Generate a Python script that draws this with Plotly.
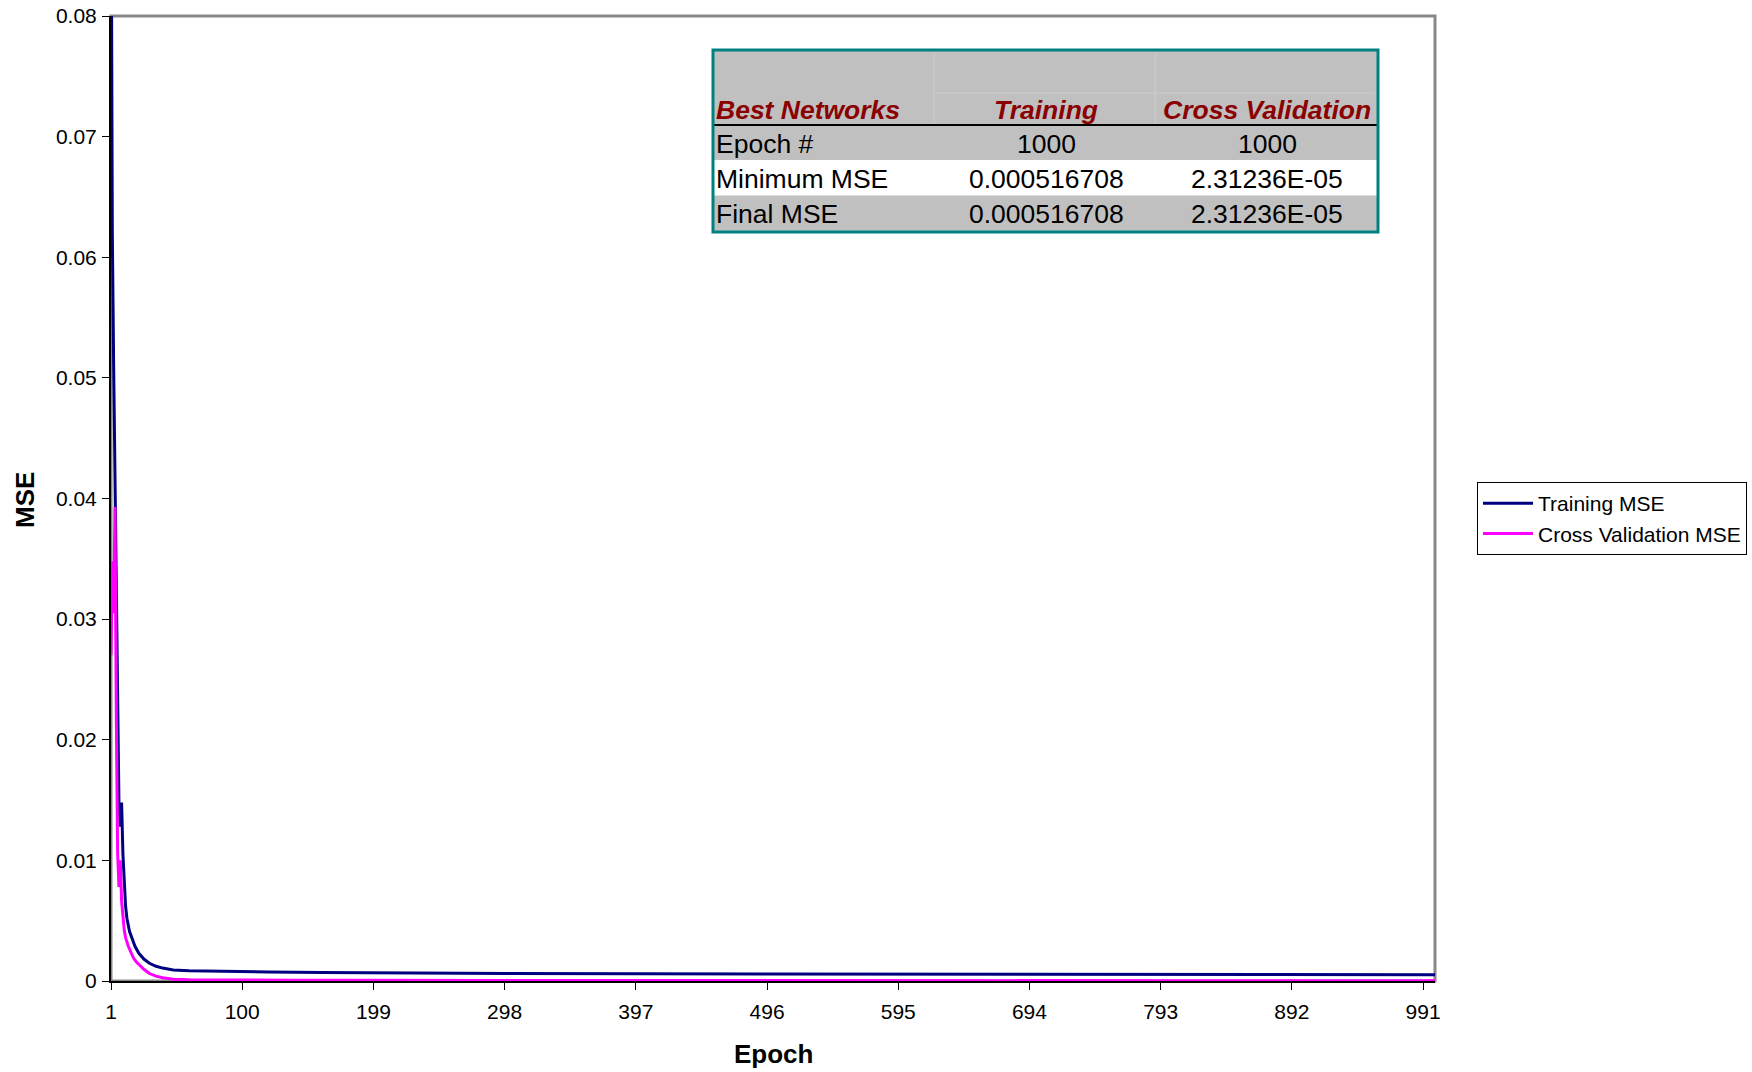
import plotly.graph_objects as go

# ---- data -------------------------------------------------------------
train_epochs = [1, 2, 3, 4, 5, 6, 7, 8, 9, 10, 11, 12, 13, 14, 15, 17, 19, 22, 26, 30,
                35, 40, 48, 60, 85, 120, 160, 210, 300, 400, 500, 600, 700, 800, 900, 1000]
train_mse = [0.0950, 0.0620, 0.0510, 0.0420, 0.0330, 0.0220, 0.0148, 0.0128, 0.0148, 0.0105,
             0.0078, 0.0062, 0.0052, 0.0046, 0.0041, 0.0035, 0.0029, 0.0023, 0.0018, 0.00147,
             0.00122, 0.00107, 0.00092, 0.00085, 0.00078, 0.00074, 0.00070, 0.00066, 0.00062,
             0.00060, 0.00058, 0.00056, 0.000545, 0.000535, 0.000525, 0.000516708]

cv_epochs = [1, 2, 3, 4, 5, 6, 7, 8, 9, 10, 11, 12, 13, 14, 16, 18, 20, 23, 26, 30,
             35, 40, 48, 60, 75, 100, 140, 180, 250, 350, 500, 660, 800, 1000]
cv_mse = [0.0270, 0.0348, 0.0305, 0.0393, 0.0220, 0.0106, 0.0078, 0.0100, 0.0066, 0.0052,
          0.0042, 0.0036, 0.0032, 0.0029, 0.0024, 0.0019, 0.0016, 0.00125, 0.00095, 0.00062,
          0.00040, 0.00027, 0.00015, 0.00010, 0.000085, 0.00007, 0.00006, 0.000055, 0.000045,
          0.000038, 0.000032, 0.000028, 0.000026, 0.0000231236]

x_ticks = [1, 100, 199, 298, 397, 496, 595, 694, 793, 892, 991]
y_ticks = [0, 0.01, 0.02, 0.03, 0.04, 0.05, 0.06, 0.07, 0.08]
y_tick_text = ["0", "0.01", "0.02", "0.03", "0.04", "0.05", "0.06", "0.07", "0.08"]

# summary table
table_header = ["Best Networks", "Training", "Cross Validation"]
row_labels = ["Epoch #", "Minimum MSE", "Final MSE"]
training_col = ["1000", "0.000516708", "0.000516708"]
cv_col = ["1000", "2.31236E-05", "2.31236E-05"]

# ---- figure -----------------------------------------------------------
W, H = 1752, 1072
FONT = "Liberation Sans, Arial, sans-serif"


def px(x):
    return x / W


def py(y):
    return 1 - y / H


fig = go.Figure()
fig.add_trace(go.Scatter(x=train_epochs, y=train_mse, mode="lines", name="Training MSE",
                         line=dict(color="#000080", width=3)))
fig.add_trace(go.Scatter(x=cv_epochs, y=cv_mse, mode="lines", name="Cross Validation MSE",
                         line=dict(color="#FF00FF", width=3)))

x0, x1, y0, y1 = 111, 1435, 16, 981

fig.update_layout(
    width=W, height=H,
    margin=dict(l=0, r=0, t=0, b=0, autoexpand=False),
    paper_bgcolor="white", plot_bgcolor="white",
    font=dict(family=FONT, color="black", size=21),
    showlegend=True,
    legend=dict(x=px(1477), y=py(482), xanchor="left", yanchor="top",
                bgcolor="white", bordercolor="black", borderwidth=1,
                font=dict(size=21, family=FONT), tracegroupgap=0, itemwidth=50),
    xaxis=dict(domain=[px(x0), px(x1)], range=[1, 1000], tickmode="array",
               tickvals=x_ticks, ticktext=[str(v) for v in x_ticks], automargin=False,
               showgrid=False, zeroline=False, showline=True, linecolor="black",
               linewidth=2, ticks="outside", ticklen=7, tickcolor="black", tickwidth=1,
               ticklabelstandoff=4, tickfont=dict(size=21)),
    xaxis2=dict(domain=[px(x0), px(x1)], overlaying="x", matches="x", anchor="y",
                tickmode="array", tickvals=x_ticks, showticklabels=False, automargin=False,
                showgrid=False, zeroline=False, showline=False,
                ticks="inside", ticklen=6, tickcolor="black", tickwidth=1),
    yaxis=dict(domain=[py(y1), py(y0)], range=[0, 0.08], tickmode="array",
               tickvals=y_ticks, ticktext=y_tick_text, automargin=False,
               showgrid=False, zeroline=False, showline=True, linecolor="black",
               linewidth=2, ticks="outside", ticklen=7, tickcolor="black", tickwidth=1,
               ticklabelstandoff=1, tickfont=dict(size=21)),
)

shapes = []
# grey plot-area frame
shapes.append(dict(type="rect", xref="x domain", yref="y domain", x0=0, x1=1, y0=0, y1=1,
                   line=dict(color="#888888", width=3), layer="below"))

# table geometry (pixels)
tl, tr, tt, tb = 713, 1378, 50, 232
c1, c2 = 934, 1155
band_bottom, head_bottom = 93, 125
row_edges = [125, 160, 195.5, 230]
gray = "#C0C0C0"

shapes.append(dict(type="rect", xref="paper", yref="paper", x0=px(tl), x1=px(tr),
                   y0=py(tb), y1=py(tt), fillcolor=gray, line=dict(width=0), layer="above"))
# white middle row
shapes.append(dict(type="rect", xref="paper", yref="paper", x0=px(tl), x1=px(tr),
                   y0=py(row_edges[2]), y1=py(row_edges[1]), fillcolor="white",
                   line=dict(width=0), layer="above"))
# faint cell borders
faint = "#CDCDCD"
for xc in (c1, c2):
    shapes.append(dict(type="line", xref="paper", yref="paper", x0=px(xc), x1=px(xc),
                       y0=py(head_bottom), y1=py(tt + 3), line=dict(color=faint, width=1),
                       layer="above"))
shapes.append(dict(type="line", xref="paper", yref="paper", x0=px(c1), x1=px(tr - 3),
                   y0=py(band_bottom), y1=py(band_bottom), line=dict(color=faint, width=1),
                   layer="above"))
# black rule under header
shapes.append(dict(type="line", xref="paper", yref="paper", x0=px(tl), x1=px(tr),
                   y0=py(head_bottom), y1=py(head_bottom), line=dict(color="black", width=2),
                   layer="above"))
# teal outer border
shapes.append(dict(type="rect", xref="paper", yref="paper", x0=px(tl), x1=px(tr),
                   y0=py(tb), y1=py(tt), line=dict(color="#008080", width=3),
                   fillcolor="rgba(0,0,0,0)", layer="above"))
fig.update_layout(shapes=shapes)

ann = []
col_centers = [None, 1046, 1267]
head_y = 110
header_font = dict(family=FONT, size=26.5, color="#8B0000")
ann.append(dict(x=px(tl + 1), y=py(head_y), xref="paper", yref="paper", xanchor="left",
                yanchor="middle", text="<b><i>%s</i></b>" % table_header[0],
                showarrow=False, font=header_font))
for i in (1, 2):
    ann.append(dict(x=px(col_centers[i]), y=py(head_y), xref="paper", yref="paper",
                    xanchor="center", yanchor="middle",
                    text="<b><i>%s</i></b>" % table_header[i],
                    showarrow=False, font=header_font))

body_font = dict(family=FONT, size=26.5, color="black")
for r, label in enumerate(row_labels):
    yc = (row_edges[r] + row_edges[r + 1]) / 2 + 1
    ann.append(dict(x=px(tl + 1), y=py(yc), xref="paper", yref="paper", xanchor="left",
                    yanchor="middle", text=label, showarrow=False, font=body_font))
    ann.append(dict(x=px(col_centers[1]), y=py(yc), xref="paper", yref="paper",
                    xanchor="center", yanchor="middle", text=training_col[r],
                    showarrow=False, font=body_font))
    ann.append(dict(x=px(col_centers[2]), y=py(yc), xref="paper", yref="paper",
                    xanchor="center", yanchor="middle", text=cv_col[r],
                    showarrow=False, font=body_font))

# axis titles
ann.append(dict(x=px(25), y=py(500), xref="paper", yref="paper", text="<b>MSE</b>",
                textangle=-90, showarrow=False, font=dict(family=FONT, size=26),
                xanchor="center", yanchor="middle"))
ann.append(dict(x=px(773), y=py(1054), xref="paper", yref="paper", text="<b>Epoch</b>",
                showarrow=False, font=dict(family=FONT, size=26),
                xanchor="center", yanchor="middle"))
fig.update_layout(annotations=ann)

fig.write_html("out.html")
